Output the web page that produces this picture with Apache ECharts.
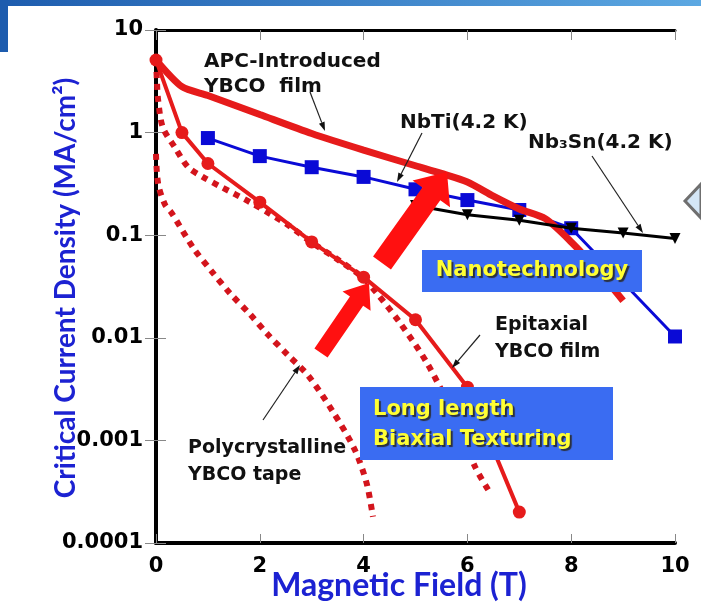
<!DOCTYPE html>
<html><head><meta charset="utf-8">
<script src="https://cdn.jsdelivr.net/npm/echarts/dist/echarts.min.js"></script>
<style>html,body{margin:0;padding:0;background:#fff}#c{width:701px;height:604px}</style>
</head><body><div id="c"></div>
<script>
// ---- data (x: magnetic field T, y: Jc MA/cm2) ----
const xTickValues = [0, 2, 4, 6, 8, 10];
const yTickLabels = ['0.0001', '0.001', '0.01', '0.1', '1', '10'];

const apcFilm = [[0,5.1],[0.5,2.8],[1,2.3],[2,1.5],[3,0.98],[4,0.675],[5,0.475],[5.5,0.40],[6,0.33],[6.5,0.24],[7,0.18],[7.5,0.145],[8,0.086],[8.5,0.046],[9,0.023]];
const epitaxialFilm = [[0,5.1],[0.5,1.0],[1,0.5],[2,0.21],[3,0.086],[4,0.039],[5,0.015],[6,0.0033],[7,0.0002]];
const epitaxialDotted = [[0,5.1],[0.02,3.0],[0.04,2.1],[0.13,1.13],[0.37,0.71],[0.62,0.46],[0.9,0.37],[1.23,0.30],[1.81,0.21],[2.5,0.13],[3,0.085],[3.5,0.058],[4,0.038],[4.26,0.027],[4.7,0.014],[5.22,0.0057],[5.7,0.0019],[6.15,0.00055],[6.4,0.00033]];
const polyTape = [[0,0.62],[0.04,0.32],[0.17,0.2],[0.3,0.165],[0.72,0.075],[1.08,0.044],[1.43,0.027],[1.81,0.017],[2.16,0.0107],[2.54,0.0068],[2.93,0.0043],[3.41,0.0019],[3.83,0.00081],[4.06,0.00038],[4.18,0.00018]];
const nbTi = [[1,0.885],[2,0.59],[3,0.46],[4,0.37],[5,0.28],[6,0.22],[7,0.176],[8,0.117],[10,0.0103]];
const nb3Sn = [[5,0.195],[6,0.158],[7,0.14],[8,0.117],[9,0.105],[10,0.093]];

const RED = '#e61b1b', RED_D = '#d3141c', BLUE = '#0a0ad6';
const chart = echarts.init(document.getElementById('c'), null, {renderer: 'canvas'});
const TICKFONT = {fontFamily: 'DejaVu Sans', fontWeight: 'bold', fontSize: 21, color: '#000'};

chart.setOption({
  animation: false,
  backgroundColor: '#fff',
  grid: {left: 156, top: 30, right: 26, bottom: 61},
  xAxis: [
    {type: 'value', min: 0, max: 10, interval: 2, position: 'bottom',
     axisLine: {lineStyle: {color: '#000', width: 4}},
     axisTick: {inside: true, length: 9, lineStyle: {color: '#888', width: 1}},
     axisLabel: Object.assign({margin: 13, formatter: v => xTickValues.includes(v) ? String(v) : ''}, TICKFONT),
     splitLine: {show: false}},
    {type: 'value', min: 0, max: 10, interval: 2, position: 'top',
     axisLine: {lineStyle: {color: '#000', width: 3}},
     axisTick: {inside: true, length: 10, lineStyle: {color: '#888', width: 1}},
     axisLabel: {show: false}, splitLine: {show: false}}
  ],
  yAxis: [
    {type: 'log', logBase: 10, min: 0.0001, max: 10, position: 'left',
     axisLine: {lineStyle: {color: '#000', width: 4}},
     axisTick: {inside: true, length: 10, lineStyle: {color: '#888', width: 1}},
     minorTick: {show: false},
     axisLabel: Object.assign({margin: 13, formatter: v => yTickLabels[Math.round(Math.log10(v)) + 4]}, TICKFONT),
     splitLine: {show: false}},
    {type: 'log', logBase: 10, min: 0.0001, max: 10, position: 'right',
     axisLine: {lineStyle: {color: '#000', width: 3}},
     axisTick: {inside: true, length: 11, lineStyle: {color: '#888', width: 1}},
     axisLabel: {show: false}, splitLine: {show: false}}
  ],
  series: [
    {type: 'line', name: 'NbTi(4.2 K)', data: nbTi, symbol: 'rect', symbolSize: 14, clip: false,
     itemStyle: {color: BLUE}, lineStyle: {color: BLUE, width: 3}, z: 2},
    {type: 'line', name: 'APC-Introduced YBCO film', data: apcFilm, smooth: 0.25, symbol: 'none', clip: false,
     lineStyle: {color: RED, width: 7}, z: 3},
    {type: 'line', name: 'Polycrystalline YBCO tape', data: polyTape, smooth: 0.3, symbol: 'none', clip: false,
     lineStyle: {color: RED_D, width: 6, type: [6, 6], cap: 'butt'}, z: 3},
    {type: 'line', name: 'Epitaxial (dotted)', data: epitaxialDotted, smooth: 0.3, symbol: 'none', clip: false,
     lineStyle: {color: RED_D, width: 6, type: [6, 6], cap: 'butt'}, z: 3},
    {type: 'line', name: 'Epitaxial YBCO film', data: epitaxialFilm, symbol: 'circle', symbolSize: 13, clip: false,
     itemStyle: {color: RED}, lineStyle: {color: RED, width: 4}, z: 4},
    {type: 'line', name: 'Nb3Sn(4.2 K)', data: nb3Sn, symbol: 'triangle', symbolRotate: 180, symbolSize: 11, clip: false,
     itemStyle: {color: '#000'}, lineStyle: {color: '#000', width: 3}, z: 5}
  ]
});

// ---- annotations ----
function bigArrow(x0, y0, x1, y1, sw, hw, hl) {
  const dx = x1 - x0, dy = y1 - y0, L = Math.hypot(dx, dy);
  const ux = dx / L, uy = dy / L, px = -uy, py = ux;
  const bx = x1 - ux * hl, by = y1 - uy * hl;
  return [[x0 + px * sw / 2, y0 + py * sw / 2], [bx + px * sw / 2, by + py * sw / 2], [bx + px * hw / 2, by + py * hw / 2],
          [x1, y1], [bx - px * hw / 2, by - py * hw / 2], [bx - px * sw / 2, by - py * sw / 2], [x0 - px * sw / 2, y0 - py * sw / 2]];
}
function thinArrow(x0, y0, x1, y1) {
  const dx = x1 - x0, dy = y1 - y0, L = Math.hypot(dx, dy);
  const ux = dx / L, uy = dy / L, px = -uy, py = ux, hl = 9, hw = 6;
  const bx = x1 - ux * hl, by = y1 - uy * hl;
  return [
    {type: 'line', z: 90, shape: {x1: x0, y1: y0, x2: bx, y2: by}, style: {stroke: '#222', lineWidth: 1.2}},
    {type: 'polygon', z: 90, shape: {points: [[x1, y1], [bx + px * hw / 2, by + py * hw / 2], [bx - px * hw / 2, by - py * hw / 2]]}, style: {fill: '#111'}}
  ];
}
function label(text, x, y, size, extra) {
  return Object.assign({type: 'text', z: 95, x: x, y: y,
    style: {text: text, fill: '#111', font: 'bold ' + size + 'px "DejaVu Sans"', textAlign: 'left', textVerticalAlign: 'middle'}}, extra || {});
}
function boxText(text, x, y, align) {
  return {type: 'text', z: 101, x: x, y: y,
    style: {text: text, fill: '#ffff33', font: 'bold 21px "DejaVu Sans"', textAlign: align, textVerticalAlign: 'middle',
            textShadowColor: 'rgba(40,40,40,0.9)', textShadowOffsetX: 2, textShadowOffsetY: 2, textShadowBlur: 1}};
}

const g = [];
// page decoration
g.push({type: 'rect', z: 1, shape: {x: 0, y: 0, width: 701, height: 6},
  style: {fill: new echarts.graphic.LinearGradient(0, 0, 1, 0, [{offset: 0, color: '#1d5cae'}, {offset: 1, color: '#5ca8e2'}])}});
g.push({type: 'rect', z: 1, shape: {x: 0, y: 0, width: 8, height: 52}, style: {fill: '#1d5cae'}});
g.push({type: 'polygon', z: 1, shape: {points: [[701, 184], [685, 201], [701, 218]]}, style: {fill: '#d4e6f6', stroke: '#6f6f6f', lineWidth: 3}});

// big red arrows
g.push({type: 'polygon', z: 80, shape: {points: bigArrow(382, 263, 447, 172, 22, 46, 27)}, style: {fill: '#ff1010'}});
g.push({type: 'polygon', z: 80, shape: {points: bigArrow(321, 353, 369, 283, 16, 34, 22)}, style: {fill: '#ff1010'}});

// blue boxes
g.push({type: 'rect', z: 100, shape: {x: 422, y: 250, width: 220, height: 42}, style: {fill: '#3a6cf2'}});
g.push(boxText('Nanotechnology', 532, 271, 'center'));
g.push({type: 'rect', z: 100, shape: {x: 360, y: 387, width: 253, height: 73}, style: {fill: '#3a6cf2'}});
g.push(boxText('Long length', 373, 410, 'left'));
g.push(boxText('Biaxial Texturing', 373, 440, 'left'));

// text labels
g.push(label('APC-Introduced', 204, 62, 20));
g.push(label('YBCO  film', 204, 87, 20));
g.push(label('NbTi(4.2 K)', 400, 123, 20));
g.push(label('Nb₃Sn(4.2 K)', 528, 143, 20));
g.push(label('Epitaxial', 495, 325, 19));
g.push(label('YBCO film', 495, 352, 19));
g.push(label('Polycrystalline', 188, 448, 19));
g.push(label('YBCO tape', 188, 475, 19));

// pointer arrows
g.push(...thinArrow(310, 92, 325, 131));
g.push(...thinArrow(422, 133, 397, 182));
g.push(...thinArrow(592, 156, 643, 233));
g.push(...thinArrow(480, 335, 452, 368));
g.push(...thinArrow(263, 420, 300, 365));

// axis titles
g.push({type: 'text', z: 96, x: 66, y: 288, rotation: Math.PI / 2,
  style: {text: 'Critical Current Density (MA/cm²)', fill: '#1c22d2', font: 'bold 28px Lato', textAlign: 'center', textVerticalAlign: 'middle'}});
g.push({type: 'text', z: 96, x: 399, y: 586,
  style: {text: 'Magnetic Field (T)', fill: '#1c22d2', font: 'bold 32px Lato', textAlign: 'center', textVerticalAlign: 'middle'}});

chart.setOption({graphic: {elements: g}});
</script>
</body></html>
